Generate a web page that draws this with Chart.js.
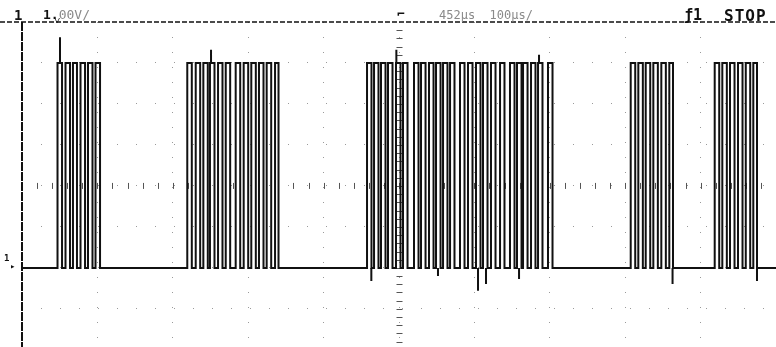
<!DOCTYPE html>
<html lang="en">

<head>
    <meta charset="UTF-8">
    <title>Scope capture</title>
    <style>
        body { margin: 0; background: #fff; }
        #wrap { position: relative; width: 776px; height: 347px; overflow: hidden; }
        #myChart { position: absolute; left: 0; top: 0; }
        .lbl { position: absolute; font-family: "DejaVu Sans Mono", monospace; line-height: 1; white-space: pre; color: #111; }
        .dim { color: #8a8a8a; }
    </style>
</head>

<body>
    <div id="wrap">
        <canvas id="myChart" width="776" height="347"></canvas>
        <span class="lbl" style="left:14px;top:8px;font-size:14px;font-weight:bold">1</span>
        <span class="lbl" style="left:43px;top:8px;font-size:13px"><b>1.</b><span class="dim">00V/</span></span>
        <span class="lbl" style="left:54px;top:15px;font-size:11px;font-weight:bold">˅</span>
        <span class="lbl" style="left:397px;top:7px;font-size:13px;font-weight:bold">⌐</span>
        <span class="lbl dim" style="left:439px;top:9px;font-size:12px">452µs  100µs/</span>
        <span class="lbl" style="left:684px;top:8px;font-size:15px;font-weight:bold">ƒ1</span>
        <span class="lbl" style="left:724px;top:8px;font-size:16px;font-weight:bold;letter-spacing:1px">STOP</span>
        <span class="lbl" style="left:4px;top:254px;font-size:9px;font-weight:bold">1</span>
        <span class="lbl" style="left:10px;top:262px;font-size:9px">▸</span>
    </div>

    <script src="https://cdn.jsdelivr.net/npm/chart.js"></script>

    <script>
        // time in µs from left edge of screen (100µs/div), voltage in V (1.00V/div)
        const lowV = 0;
        const highV = 5;

        // rising edges of each pulse, five bursts
        const rises = [
            47.1, 57.7, 67.6, 77.6, 87.5, 97.5,
            219.2, 230.4, 240.5, 249.3, 260.0, 270.2, 283.4, 294.0, 304.1, 314.3, 324.5, 335.6,
            457.6, 466.9, 476.1, 485.4, 496.0, 505.3, 519.9, 529.2, 539.8, 549.1, 558.4, 567.7,
            580.9, 591.5, 602.1, 611.4, 622.0, 634.0, 647.2, 656.5, 664.5, 675.1, 684.4, 697.6,
            807.3, 817.4, 827.2, 837.3, 847.9, 858.5,
            918.7, 928.8, 939.0, 949.6, 959.9, 969.9
        ];
        // falling edges, same order
        const falls = [
            53.1, 63.7, 72.9, 83.6, 93.5, 103.5,
            225.2, 236.3, 246.4, 255.3, 265.9, 276.1, 289.4, 300.0, 310.1, 320.3, 330.5, 340.2,
            463.5, 472.8, 482.1, 491.4, 502.0, 511.3, 525.9, 535.2, 545.8, 555.1, 564.3, 573.6,
            586.9, 597.5, 608.1, 617.4, 628.0, 639.9, 653.2, 662.5, 670.5, 681.0, 690.3, 703.6,
            813.3, 823.4, 833.2, 843.3, 853.9, 863.4,
            924.7, 934.8, 945.0, 955.6, 965.8, 974.8
        ];

        // overshoot / undershoot spikes
        const glitchT = [50.4, 250.7, 496.5, 685.7, 463.3, 551.7, 604.8, 615.4, 659.2, 862.8, 974.8];
        const glitchV = [5.63, 5.32, 5.32, 5.2, -0.32, -0.2, -0.56, -0.39, -0.27, -0.39, -0.32];

        const xDivs = [100, 200, 300, 400, 500, 600, 700, 800, 900];
        const yDivs = [-1, 0, 1, 2, 3, 4, 5];

        // build trace points from the edge lists
        let trace = [{ x: 0, y: lowV }];
        for (let i = 0; i < rises.length; i++) {
            trace.push({ x: rises[i], y: lowV });
            trace.push({ x: rises[i], y: highV });
            trace.push({ x: falls[i], y: highV });
            trace.push({ x: falls[i], y: lowV });
        }
        trace.push({ x: 1000, y: lowV });

        let spikes = [];
        for (let i = 0; i < glitchT.length; i++) {
            let base = glitchV[i] > 2 ? highV : lowV;
            spikes.push({ x: glitchT[i], y: base });
            spikes.push({ x: glitchT[i], y: glitchV[i] });
            spikes.push({ x: glitchT[i], y: null });
        }

        // center axis ticks, left edge, top dashed line
        const graticule = {
            id: 'graticule',
            beforeDatasetsDraw(chart) {
                const c = chart.ctx;
                const xs = chart.scales.x;
                const ys = chart.scales.y;
                const a = chart.chartArea;
                c.save();
                c.strokeStyle = '#555';
                c.lineWidth = 1;
                let y0 = ys.getPixelForValue(2);
                for (let t = 0; t <= 1000; t += 20) {
                    let px = Math.round(xs.getPixelForValue(t)) + 0.5;
                    c.beginPath();
                    c.moveTo(px, y0 - 3);
                    c.lineTo(px, y0 + 3);
                    c.stroke();
                }
                let x0 = Math.round(xs.getPixelForValue(500)) + 0.5;
                for (let v = -2; v <= 6; v += 0.2) {
                    let py = Math.round(ys.getPixelForValue(v)) + 0.5;
                    c.beginPath();
                    c.moveTo(x0 - 3, py);
                    c.lineTo(x0 + 3, py);
                    c.stroke();
                }
                c.strokeStyle = '#111';
                c.lineWidth = 2;
                c.setLineDash([9, 1]);
                c.beginPath();
                c.moveTo(a.left, a.top);
                c.lineTo(a.left, a.bottom);
                c.stroke();
                c.lineWidth = 1.5;
                c.setLineDash([5, 2]);
                c.beginPath();
                c.moveTo(0, a.top);
                c.lineTo(chart.width, a.top);
                c.stroke();
                c.restore();
            }
        };

        const ctx = document.getElementById('myChart');

        let chart = new Chart(ctx, {
            type: 'line',
            data: {
                datasets: [{
                    label: 'CH1',
                    data: trace,
                    borderColor: '#111',
                    borderWidth: 2,
                    pointRadius: 0,
                    tension: 0
                },
                {
                    label: 'glitch',
                    data: spikes,
                    borderColor: '#111',
                    borderWidth: 2,
                    pointRadius: 0,
                    spanGaps: false
                }]
            },
            options: {
                responsive: false,
                animation: false,
                layout: { padding: { left: 22, top: 22, right: 0, bottom: 0 } },
                plugins: {
                    legend: { display: false },
                    tooltip: { enabled: false }
                },
                scales: {
                    x: {
                        type: 'linear',
                        min: 0,
                        max: 1000,
                        afterBuildTicks: s => { s.ticks = xDivs.map(v => ({ value: v })); },
                        ticks: { display: false },
                        grid: { color: '#9a9a9a', lineWidth: 1, drawTicks: false },
                        border: { display: false, dash: [1, 14] }
                    },
                    y: {
                        min: -1.93,
                        max: 6,
                        afterBuildTicks: s => { s.ticks = yDivs.map(v => ({ value: v })); },
                        ticks: { display: false },
                        grid: { color: '#9a9a9a', lineWidth: 1, drawTicks: false },
                        border: { display: false, dash: [1, 18] }
                    }
                }
            },
            plugins: [graticule]
        });
    </script>
</body>

</html>
